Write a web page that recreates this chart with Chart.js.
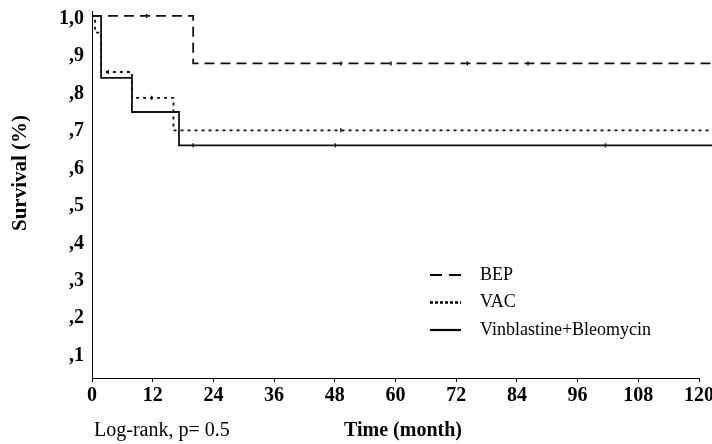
<!DOCTYPE html>
<html>
<head>
<meta charset="utf-8">
<script src="https://cdn.jsdelivr.net/npm/chart.js@4/dist/chart.umd.min.js"></script>
<style>
  html, body { margin: 0; padding: 0; background: #fff; }
  #wrap { width: 712px; height: 444px; }
</style>
</head>
<body>
<div id="wrap"><canvas id="chart" width="712" height="444"></canvas></div>
<script>
const seriesNames = ['BEP', 'VAC', 'Vinblastine+Bleomycin']

// time (month), survival fraction, censored flag (1 = censor mark)
const bepTime   = [0, 10.8, 20.0, 49.2, 59.1, 74.2, 86.2, 123]
const bepSurv   = [1.0, 1.0, 0.873, 0.873, 0.873, 0.873, 0.873, 0.873]
const bepCensor = [0, 1, 0, 1, 1, 1, 1, 0]

const vacTime   = [0, 0.6, 1.8, 3.2, 7.9, 11.8, 16.1, 49.2, 123]
const vacSurv   = [1.0, 0.955, 0.85, 0.85, 0.781, 0.781, 0.694, 0.694, 0.694]
const vacCensor = [0, 0, 0, 1, 0, 1, 0, 1, 0]

const vbTime   = [0, 1.8, 7.9, 17.2, 20.0, 48.1, 101.5, 123]
const vbSurv   = [1.0, 0.834, 0.743, 0.654, 0.654, 0.654, 0.654, 0.654]
const vbCensor = [0, 0, 0, 0, 1, 1, 1, 0]

const yTickValues = [0.1, 0.2, 0.3, 0.4, 0.5, 0.6, 0.7, 0.8, 0.9, 1.0]
const yTickLabels = [',1', ',2', ',3', ',4', ',5', ',6', ',7', ',8', ',9', '1,0']

const serif = "'Liberation Serif', 'Times New Roman', serif"

function toPoints(times, surv) {
  return times.map((t, i) => ({ x: t, y: surv[i] }))
}

function makeSet(label, times, surv, censor, dash) {
  return {
    label: label,
    data: toPoints(times, surv),
    stepped: 'before', // horizontal first, then the drop
    borderColor: '#111',
    borderWidth: 1.8,
    borderDash: dash,
    pointStyle: 'line',
    rotation: 90,
    pointRadius: censor.map(c => c ? 2 : 0),
    pointBorderWidth: 1.5,
    pointBorderColor: '#111',
    clip: false,
    fill: false,
  }
}

// legend + free texts
const textPlugin = {
  id: 'texts',
  afterDraw(chart) {
    const ctx = chart.ctx
    ctx.save()
    ctx.fillStyle = '#000'
    ctx.textBaseline = 'middle'

    // y title
    ctx.save()
    ctx.translate(21, 173)
    ctx.rotate(-Math.PI / 2)
    ctx.textAlign = 'center'
    ctx.font = 'bold 21px ' + serif
    ctx.fillText('Survival (%)', 0, 0)
    ctx.restore()

    ctx.textAlign = 'center'
    ctx.font = 'bold 20px ' + serif
    ctx.fillText('Time (month)', 403, 431)

    ctx.textAlign = 'left'
    ctx.font = '20px ' + serif
    ctx.fillText('Log-rank, p= 0.5', 94, 431)

    // legend
    const legendDash = [[12, 7], [3, 2], []]
    ctx.font = '18px ' + serif
    chart.data.datasets.forEach((ds, i) => {
      const y = 275 + i * 27.5
      ctx.beginPath()
      ctx.setLineDash(legendDash[i])
      ctx.lineWidth = i === 1 ? 2.5 : 2.2
      ctx.strokeStyle = '#000'
      ctx.moveTo(430, y)
      ctx.lineTo(461, y)
      ctx.stroke()
      ctx.setLineDash([])
      ctx.fillText(ds.label, 480, y)
    })
    ctx.restore()
  }
}

const ctx = document.getElementById('chart').getContext('2d')
const myChart = new Chart(ctx, {
  type: 'line',
  data: {
    datasets: [
      makeSet(seriesNames[0], bepTime, bepSurv, bepCensor, [10, 6]),
      makeSet(seriesNames[1], vacTime, vacSurv, vacCensor, [3, 4]),
      makeSet(seriesNames[2], vbTime, vbSurv, vbCensor, []),
    ]
  },
  options: {
    responsive: false,
    animation: false,
    layout: { padding: { top: 11, right: 13, left: 0, bottom: 0 } },
    plugins: {
      legend: { display: false },
      tooltip: { enabled: false },
    },
    scales: {
      x: {
        type: 'linear',
        min: 0,
        max: 120,
        ticks: {
          stepSize: 12,
          color: '#000',
          padding: 2,
          maxRotation: 0,
          font: { family: serif, size: 20, weight: 'bold' },
        },
        grid: { drawOnChartArea: false, drawTicks: true, tickLength: 4, color: '#000' },
        border: { color: '#000', width: 1 },
        afterFit(scale) {
          scale.height = 66
          scale.paddingLeft = 0
          scale.paddingRight = 0
        },
      },
      y: {
        type: 'linear',
        min: 0.032,
        max: 1.013,
        afterBuildTicks(scale) {
          scale.ticks = yTickValues.map(v => ({ value: v }))
        },
        ticks: {
          color: '#000',
          padding: 8,
          labelOffset: 3,
          font: { family: serif, size: 20, weight: 'bold' },
          callback: (value) => {
            const i = yTickValues.findIndex(v => Math.abs(v - value) < 1e-6)
            return i < 0 ? '' : yTickLabels[i]
          },
        },
        grid: { drawOnChartArea: false, drawTicks: false },
        border: { color: '#000', width: 1 },
        afterFit(scale) {
          scale.width = 92
          scale.paddingTop = 0
          scale.paddingBottom = 0
        },
      },
    },
  },
  plugins: [textPlugin],
})
</script>
</body>
</html>
